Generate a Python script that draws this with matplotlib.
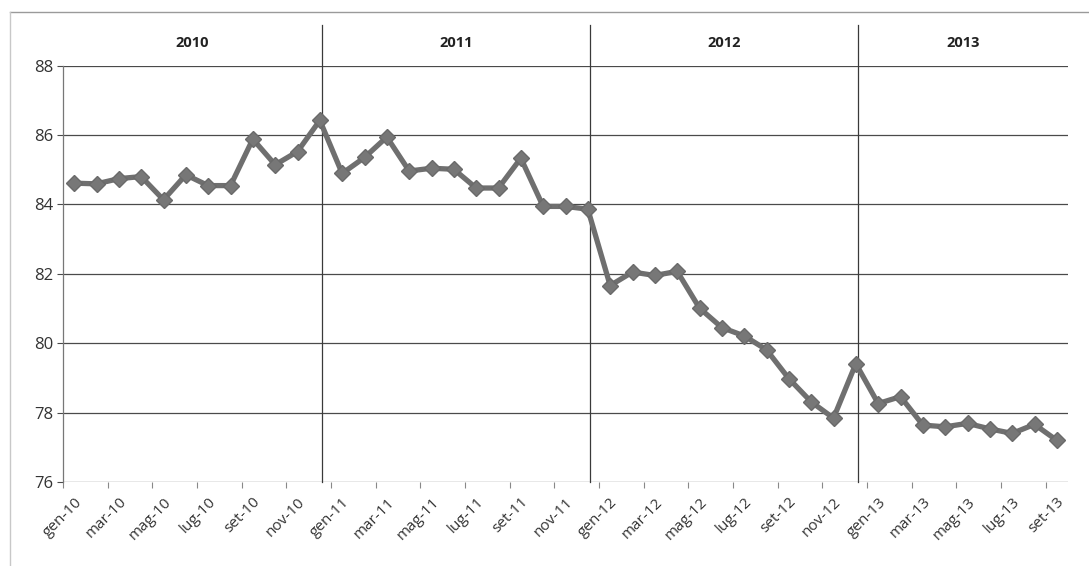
import matplotlib.pyplot as plt
from matplotlib.lines import Line2D

# ---------------------------------------------------------------------------
# Data (monthly index, gen-10 .. set-13)
# ---------------------------------------------------------------------------
months = ['gen', 'feb', 'mar', 'apr', 'mag', 'giu',
          'lug', 'ago', 'set', 'ott', 'nov', 'dic']
years = [2010, 2011, 2012, 2013]

values_2010 = [84.61, 84.59, 84.74, 84.80, 84.13, 84.85,
               84.54, 84.54, 85.88, 85.14, 85.52, 86.42]
values_2011 = [84.89, 85.35, 85.94, 84.96, 85.04, 85.01,
               84.47, 84.47, 85.33, 83.94, 83.94, 83.86]
values_2012 = [81.66, 82.05, 81.95, 82.07, 81.01, 80.45,
               80.21, 79.81, 78.98, 78.31, 77.84, 79.41]
values_2013 = [78.26, 78.46, 77.64, 77.59, 77.69, 77.53,
               77.40, 77.66, 77.20]

y_ticks = [76, 78, 80, 82, 84, 86, 88]

values = values_2010 + values_2011 + values_2012 + values_2013
labels = []
for y, series in zip(years, [values_2010, values_2011, values_2012, values_2013]):
    labels += [f'{months[m]}-{str(y)[2:]}' for m in range(len(series))]
x = list(range(len(values)))

# ---------------------------------------------------------------------------
# Plot
# ---------------------------------------------------------------------------
plt.rcParams['font.family'] = ['Open Sans', 'DejaVu Sans']

fig = plt.figure(figsize=(10.89, 5.66), dpi=100)
ax = fig.add_axes([63 / 1089, 1 - 482 / 566, (1068 - 63) / 1089, (482 - 65.5) / 566])

grid_col = '#4a4a4a'
text_col = '#333333'

for yt in y_ticks:
    ax.axhline(yt, color=grid_col, lw=0.9, zorder=1)

ax.plot(x, values, color='#6f6f6f', lw=3.8, marker='D', ms=8,
        mfc='#777777', mec='#6a6a6a', zorder=3, solid_joinstyle='round')

ax.set_xlim(-0.5, len(values) - 0.5)
ax.set_ylim(76, 88)
ax.set_yticks(y_ticks)
ax.tick_params(axis='y', labelsize=12, colors=text_col, length=4,
               width=0.8, color=grid_col, pad=3)

# labels at every other month, tick marks on the category boundaries
ax.set_xticks(x[::2])
ax.set_xticklabels(labels[::2], rotation=45, ha='right', va='top',
                   rotation_mode='anchor', fontsize=11, color=text_col)
ax.tick_params(axis='x', which='major', length=0, pad=9)
ax.set_xticks([i - 0.5 for i in x[::2]], minor=True)
ax.tick_params(axis='x', which='minor', length=4, width=0.8, color='#888888')

for side in ('top', 'right', 'bottom'):
    ax.spines[side].set_visible(False)
ax.spines['left'].set_color('#777777')
ax.spines['left'].set_linewidth(0.9)

# year separators and header labels
start = 0
for y, series in zip(years, [values_2010, values_2011, values_2012, values_2013]):
    end = start + len(series) - 1
    if y != years[-1]:
        ax.plot([end + 0.1, end + 0.1], [76, 89.17], color='#3a3a3a', lw=0.9,
                clip_on=False, zorder=2)
        right = end + 0.1
    else:
        right = len(values) - 0.5
    left = start - 0.5 if start == 0 else start - 0.9
    ax.text((left + right) / 2, 88.65, str(y), ha='center', va='center',
            fontsize=10.5, fontweight='bold', color='#222222')
    start = end + 1

# outer chart border (top and left visible in the crop)
fig.add_artist(Line2D([10 / 1089, 1], [1 - 12 / 566, 1 - 12 / 566],
                      color='#9a9a9a', lw=1, transform=fig.transFigure))
fig.add_artist(Line2D([10 / 1089, 10 / 1089], [0, 1 - 12 / 566],
                      color='#c8c8c8', lw=1, transform=fig.transFigure))

fig.savefig('out.png', dpi=100)
